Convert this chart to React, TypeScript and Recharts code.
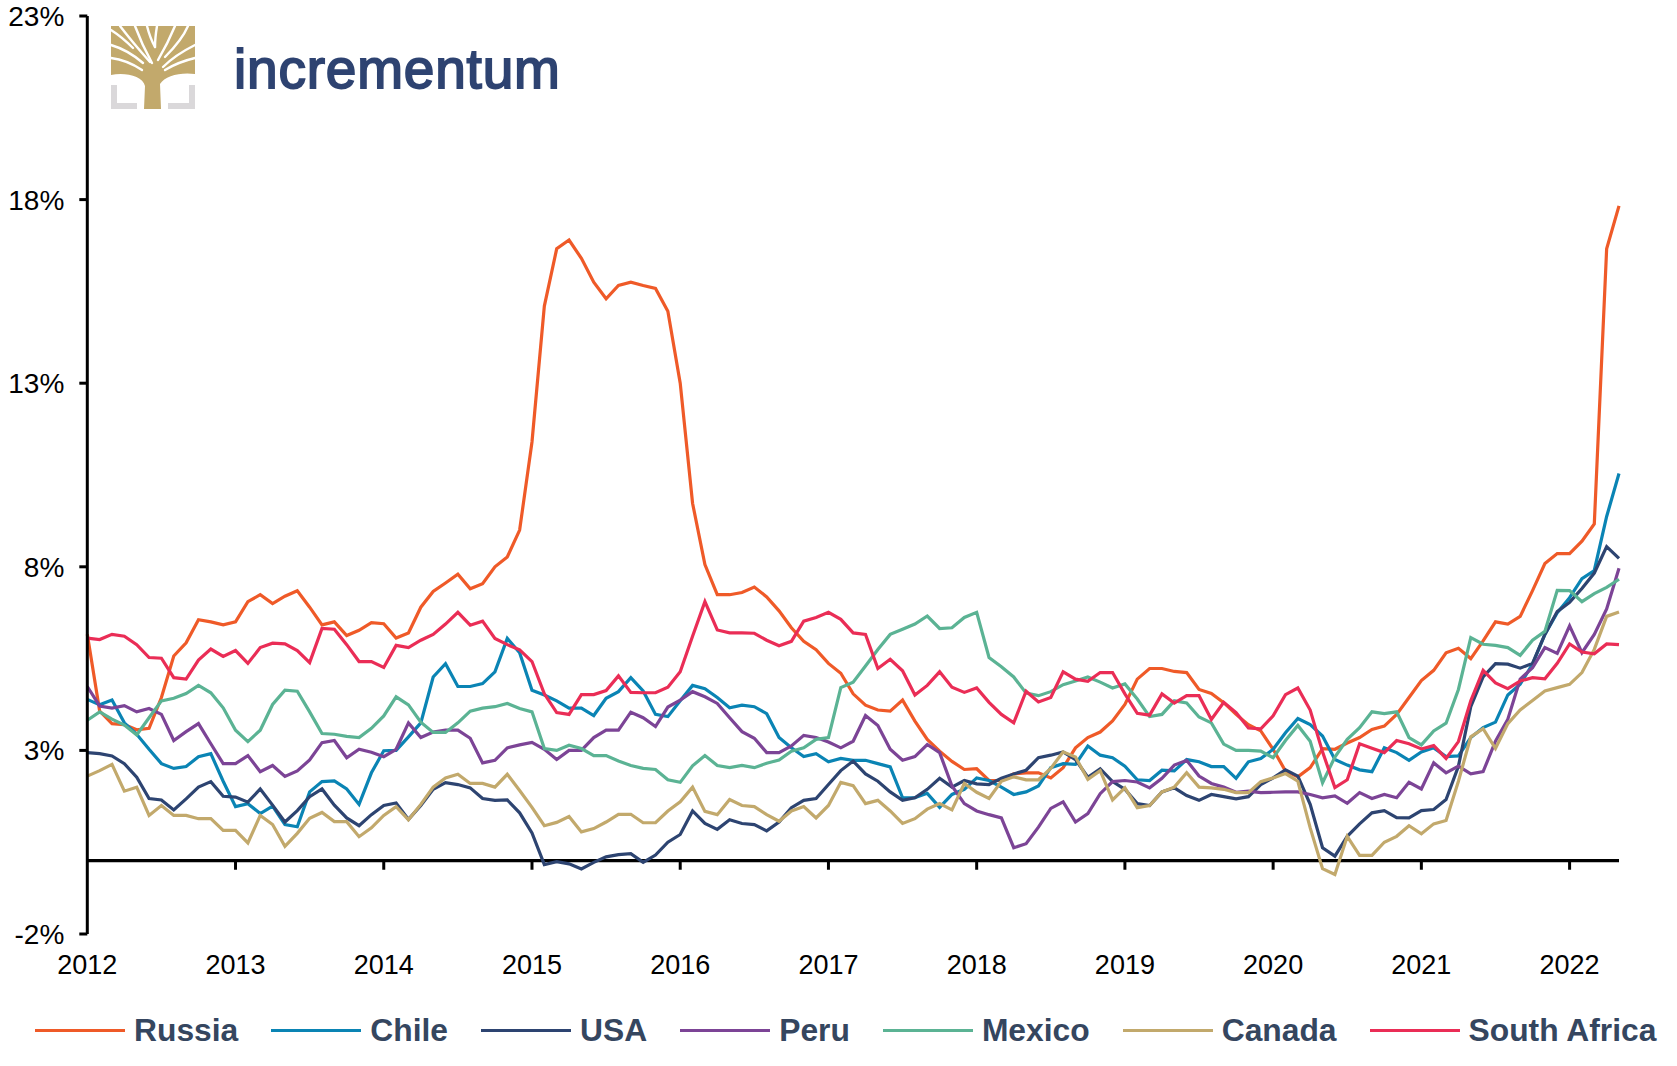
import React from "react";
import { LineChart, Line, XAxis, YAxis, ReferenceLine } from "recharts";

const years = ["2012","2013","2014","2015","2016","2017","2018","2019","2020","2021","2022"];
const yTicks = [-2, 3, 8, 13, 18, 23];

const russia = [6.16,4.07,3.73,3.7,3.56,3.6,4.44,5.57,5.93,6.56,
6.5,6.42,6.5,7.05,7.24,7.0,7.2,7.35,6.9,6.42,
6.5,6.13,6.27,6.48,6.45,6.06,6.2,6.9,7.33,7.56,
7.8,7.4,7.54,8.0,8.27,9.0,11.4,15.1,16.66,16.9,
16.4,15.75,15.3,15.66,15.75,15.66,15.58,14.96,13.0,9.73,
8.06,7.24,7.24,7.3,7.45,7.18,6.8,6.34,5.97,5.74,
5.37,5.1,4.54,4.23,4.1,4.07,4.37,3.8,3.3,2.98,
2.7,2.48,2.5,2.18,2.18,2.36,2.39,2.39,2.25,2.53,
3.07,3.35,3.5,3.8,4.25,4.94,5.23,5.23,5.15,5.12,
4.66,4.55,4.3,3.98,3.7,3.53,3.03,2.44,2.28,2.53,
3.05,3.03,3.2,3.35,3.57,3.66,3.98,4.44,4.9,5.18,
5.66,5.78,5.5,5.98,6.5,6.44,6.65,7.35,8.09,8.36,
8.36,8.7,9.17,16.66,17.83];

const chile = [4.39,4.24,4.37,3.75,3.44,3.03,2.64,2.51,2.56,2.83,
2.91,2.16,1.47,1.55,1.28,1.48,0.98,0.92,1.87,2.15,
2.17,1.95,1.53,2.39,2.99,3.0,3.37,3.75,5.0,5.36,
4.74,4.74,4.82,5.14,6.05,5.66,4.64,4.51,4.35,4.15,
4.15,3.95,4.42,4.6,4.98,4.62,3.98,3.92,4.35,4.77,
4.68,4.44,4.16,4.23,4.19,4.0,3.35,3.07,2.83,2.91,
2.69,2.78,2.73,2.73,2.64,2.55,1.71,1.71,1.83,1.45,
1.8,1.94,2.25,2.18,2.0,1.8,1.87,2.03,2.53,2.64,
2.62,3.12,2.87,2.8,2.57,2.2,2.18,2.46,2.44,2.75,
2.69,2.56,2.56,2.24,2.69,2.78,3.03,3.48,3.87,3.7,
3.39,2.75,2.6,2.47,2.42,3.07,2.94,2.73,2.96,3.07,
2.83,2.85,3.35,3.62,3.77,4.51,4.8,5.35,6.16,6.75,
7.16,7.68,7.9,9.37,10.54];

const usa = [2.94,2.91,2.85,2.64,2.27,1.69,1.65,1.38,1.68,2.0,
2.15,1.75,1.73,1.59,1.95,1.51,1.05,1.36,1.74,1.95,
1.51,1.16,0.95,1.25,1.5,1.57,1.12,1.5,1.94,2.12,
2.07,1.98,1.69,1.64,1.65,1.3,0.75,-0.11,-0.03,-0.09,
-0.23,-0.05,0.1,0.16,0.19,-0.05,0.15,0.5,0.71,1.35,
1.01,0.85,1.11,1.01,0.98,0.81,1.05,1.44,1.64,1.69,
2.07,2.45,2.71,2.36,2.16,1.87,1.64,1.71,1.94,2.24,
2.0,2.18,2.09,2.07,2.24,2.36,2.46,2.8,2.87,2.96,
2.75,2.27,2.5,2.15,1.94,1.55,1.5,1.87,1.98,1.77,
1.64,1.8,1.74,1.68,1.74,2.07,2.25,2.47,2.3,1.53,
0.35,0.12,0.66,1.0,1.3,1.36,1.17,1.16,1.36,1.39,
1.66,2.57,4.19,5.0,5.36,5.35,5.24,5.37,6.16,6.78,
7.03,7.41,7.83,8.55,8.23];

const peru = [4.74,4.21,4.15,4.22,4.05,4.14,3.98,3.27,3.51,3.73,
3.18,2.64,2.64,2.86,2.42,2.59,2.29,2.44,2.74,3.21,
3.27,2.8,3.03,2.95,2.83,3.03,3.75,3.35,3.5,3.55,
3.55,3.33,2.66,2.73,3.07,3.15,3.22,3.03,2.75,3.0,
3.0,3.35,3.55,3.55,4.04,3.89,3.65,4.18,4.37,4.6,
4.46,4.28,3.89,3.51,3.33,2.94,2.94,3.12,3.41,3.35,
3.23,3.07,3.25,3.95,3.68,3.03,2.73,2.83,3.16,2.94,
2.03,1.55,1.35,1.25,1.16,0.35,0.46,0.91,1.42,1.6,
1.05,1.28,1.82,2.15,2.18,2.14,1.98,2.24,2.6,2.73,
2.3,2.1,2.0,1.86,1.89,1.85,1.86,1.87,1.87,1.8,
1.71,1.76,1.56,1.85,1.69,1.8,1.71,2.13,1.95,2.66,
2.39,2.57,2.36,2.42,3.25,3.85,4.94,5.25,5.8,5.64,
6.39,5.66,6.16,6.85,7.96];

const mexico = [3.82,4.05,3.85,3.69,3.42,3.89,4.35,4.42,4.55,4.77,
4.57,4.16,3.55,3.24,3.55,4.25,4.64,4.61,4.05,3.46,
3.44,3.38,3.35,3.6,3.94,4.46,4.24,3.77,3.49,3.49,
3.75,4.07,4.15,4.19,4.28,4.14,4.05,3.05,3.0,3.14,
3.05,2.86,2.86,2.71,2.59,2.51,2.48,2.2,2.13,2.58,
2.86,2.59,2.53,2.59,2.53,2.65,2.74,2.98,3.07,3.3,
3.35,4.71,4.86,5.3,5.75,6.16,6.3,6.44,6.66,6.32,
6.34,6.62,6.76,5.53,5.28,5.0,4.56,4.49,4.6,4.79,
4.89,5.0,4.86,4.7,4.81,4.4,3.92,3.98,4.35,4.29,
3.91,3.75,3.17,3.0,3.0,2.98,2.8,3.27,3.68,3.25,
2.12,2.82,3.3,3.62,4.05,4.0,4.05,3.35,3.15,3.53,
3.74,4.66,6.07,5.89,5.86,5.8,5.59,6.0,6.24,7.36,
7.35,7.05,7.27,7.44,7.66];

const canada = [2.3,2.45,2.62,1.89,2.0,1.23,1.5,1.23,1.23,1.14,
1.14,0.82,0.82,0.48,1.23,0.98,0.39,0.74,1.15,1.31,
1.06,1.06,0.65,0.89,1.23,1.47,1.11,1.53,2.0,2.25,
2.35,2.1,2.1,2.0,2.35,1.91,1.45,0.95,1.04,1.2,
0.78,0.87,1.05,1.26,1.26,1.03,1.03,1.35,1.6,2.0,
1.34,1.25,1.66,1.5,1.47,1.25,1.07,1.35,1.47,1.16,
1.5,2.13,2.04,1.55,1.64,1.35,1.01,1.14,1.4,1.55,
1.38,2.1,1.86,1.69,2.16,2.28,2.2,2.2,2.51,2.96,
2.82,2.21,2.45,1.65,1.98,1.44,1.5,1.87,2.0,2.39,
2.0,1.98,1.94,1.85,1.85,2.15,2.25,2.37,2.16,0.89,
-0.22,-0.38,0.66,0.14,0.14,0.5,0.66,0.95,0.73,1.0,
1.09,2.16,3.37,3.59,3.05,3.73,4.1,4.36,4.62,4.71,
4.8,5.12,5.75,6.65,6.77];

const southAfrica = [6.06,6.02,6.16,6.11,5.88,5.53,5.51,4.98,4.94,5.46,
5.76,5.56,5.72,5.37,5.8,5.92,5.9,5.72,5.39,6.32,
6.3,5.88,5.42,5.42,5.26,5.86,5.8,6.0,6.16,6.44,
6.76,6.41,6.52,6.05,5.88,5.74,5.42,4.54,4.03,3.98,
4.52,4.52,4.63,5.03,4.58,4.57,4.57,4.72,5.14,6.11,
7.05,6.28,6.2,6.2,6.19,6.0,5.85,5.97,6.52,6.62,
6.76,6.57,6.2,6.16,5.23,5.48,5.17,4.51,4.77,5.14,
4.72,4.58,4.7,4.31,3.98,3.75,4.61,4.32,4.44,5.14,
4.94,4.88,5.12,5.12,4.54,4.01,3.96,4.54,4.29,4.49,
4.49,3.84,4.31,4.03,3.61,3.59,3.94,4.52,4.7,4.1,
2.96,1.99,2.2,3.18,3.06,2.94,3.27,3.18,3.04,3.13,
2.78,3.24,4.35,5.18,4.84,4.68,4.89,4.98,4.95,5.37,
5.9,5.68,5.63,5.9,5.88];

const months = russia.map((_, i) => `${2012 + Math.floor(i / 12)}-${String((i % 12) + 1).padStart(2, "0")}`);
const table = months.map((month, i) => ({
  month,
  Russia: russia[i],
  Chile: chile[i],
  USA: usa[i],
  Peru: peru[i],
  Mexico: mexico[i],
  Canada: canada[i],
  "South Africa": southAfrica[i],
}));

const seriesNames = ["Russia", "Chile", "USA", "Peru", "Mexico", "Canada", "South Africa"];
const seriesColors = ["#EF5A28", "#0A84B4", "#2D4471", "#7C4496", "#5BB394", "#C2A96C", "#EA2D56"];

const FONT = "'Liberation Sans', Arial, sans-serif";

function ChartLegend() {
  return (
    <div style={{ position: "absolute", left: 35, top: 1012, display: "flex", alignItems: "center", fontFamily: FONT, whiteSpace: "nowrap" }}>
      {seriesNames.map((name, i) => (
        <div key={name} style={{ display: "flex", alignItems: "center", marginRight: 33 }}>
          <div style={{ width: 90, height: 3, background: seriesColors[i], marginRight: 9 }} />
          <span style={{ fontSize: 31.8, fontWeight: 700, color: "#35465F", lineHeight: "36px" }}>{name}</span>
        </div>
      ))}
    </div>
  );
}

function Logo() {
  const gold = "#C2A96C";
  const gaps = [
    "M111 58 Q127 60 142 70",
    "M111 45 Q128 50 143 63",
    "M111 30 Q122 37 133 48",
    "M120 26 Q133 43 150 62",
    "M135 26 Q142 45 152 63",
    "M147 26 Q150 38 155 47",
    "M157 26 Q155 38 155 47",
    "M175 26 Q168 43 158 60",
    "M188 26 Q182 40 165 57",
    "M195 45 Q175 55 163 67",
    "M195 58 Q178 62 165 70",
  ];
  return (
    <svg width="1677" height="130" style={{ position: "absolute", left: 0, top: 0, pointerEvents: "none" }}>
      <path d="M111 85 V109 H137 V103 H117 V85 Z M195 85 V109 H168 V103 H189 V85 Z" fill="#DAD8DA" />
      <path d="M111 26 H195 V74 C180 72 165 76 160 84 L161 109 H144 L145 86 C143 76 125 72 111 75 Z" fill={gold} />
      <g fill="none" stroke="#fff" strokeWidth="2.4" strokeLinecap="round">
        {gaps.map((d) => <path key={d} d={d} />)}
      </g>
      <text x="234" y="88" fontFamily={FONT} fontSize="55" letterSpacing="0.8" stroke="#2E4371" strokeWidth="1.8" fill="#2E4371">incrementum</text>
    </svg>
  );
}

export default function App() {
  return (
    <div style={{ position: "absolute", left: 0, top: 0, width: 1677, height: 1066, background: "#fff" }}>
      <LineChart width={1677} height={1066} data={table} margin={{ top: 16, right: 58, bottom: 0, left: 0 }}>
        <XAxis
          dataKey="month"
          interval={11}
          height={132}
          axisLine={false}
          tickLine={false}
          tickMargin={15}
          tickFormatter={(m: string) => m.slice(0, 4)}
          tick={{ fontFamily: FONT, fontSize: 27, fill: "#000" }}
        />
        <YAxis
          width={87.3}
          domain={[-2, 23]}
          ticks={yTicks}
          interval={0}
          axisLine={{ stroke: "#000", strokeWidth: 3 }}
          tickLine={{ stroke: "#000", strokeWidth: 3 }}
          tickSize={8}
          tickMargin={15}
          tickFormatter={(v: number) => `${v}%`}
          tick={{ fontFamily: FONT, fontSize: 28, fill: "#000" }}
        />
        <ReferenceLine y={0} stroke="#000" strokeWidth={3.2} />
        {years.slice(1).map((y) => (
          <ReferenceLine
            key={y}
            segment={[{ x: `${y}-01`, y: 0 }, { x: `${y}-01`, y: -0.25 }]}
            stroke="#000"
            strokeWidth={3}
          />
        ))}
        {seriesNames.map((name, i) => (
          <Line
            key={name}
            type="linear"
            dataKey={name}
            stroke={seriesColors[i]}
            strokeWidth={3.2}
            dot={false}
            isAnimationActive={false}
          />
        ))}
      </LineChart>
      <ChartLegend />
      <Logo />
    </div>
  );
}
